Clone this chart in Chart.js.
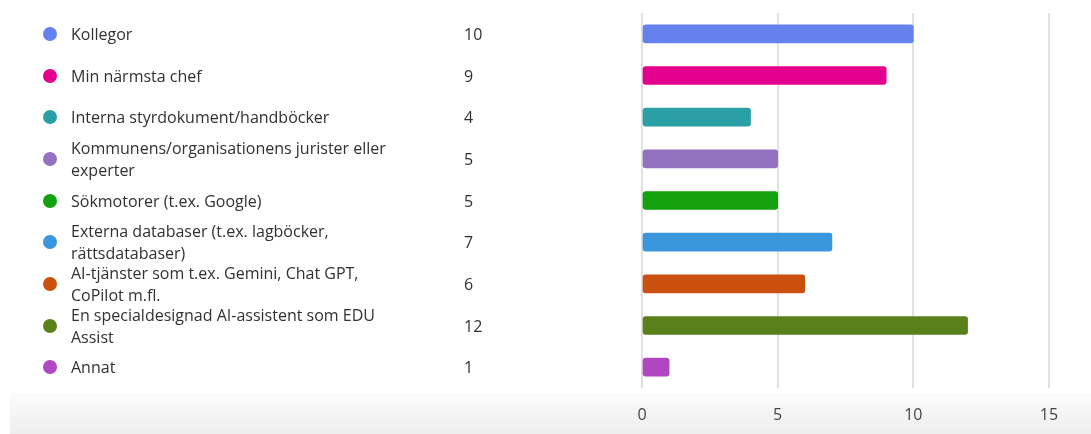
<!DOCTYPE html>
<html>
<head>
<meta charset="utf-8">
<script src="https://cdn.jsdelivr.net/npm/chart.js@4.4.1/dist/chart.umd.min.js"></script>
<style>
  html, body { margin: 0; padding: 0; background: #fff; }
  body { width: 1091px; height: 434px; position: relative; overflow: hidden; font-family: "Open Sans", "Noto Sans", sans-serif; }
  .footer-band { position: absolute; left: 10px; right: 0; top: 393px; bottom: 0; background: linear-gradient(#fbfbfb, #eeeeee); }
  #chart-wrap { position: absolute; left: 0; top: 0; width: 1091px; height: 434px; }
  #legend-list { position: absolute; left: 0; top: 0; width: 600px; height: 434px; }
  .row { position: absolute; left: 0; width: 600px; transform: translateY(-50%); color: #323130; font-size: 16px; line-height: 22px; }
  .dot { position: absolute; left: 43px; top: 50%; margin-top: -7px; width: 14px; height: 14px; border-radius: 50%; }
  .label { position: absolute; left: 71px; top: 0; white-space: nowrap; }
  .count { position: absolute; left: 464px; top: 50%; margin-top: -11px; }
</style>
</head>
<body>
<div class="footer-band"></div>
<div id="chart-wrap"><canvas id="chart" width="1091" height="434"></canvas></div>
<div id="legend-list"></div>
<script>
// Answer counts per information source
var categories = [
  ['Kollegor'],
  ['Min närmsta chef'],
  ['Interna styrdokument/handböcker'],
  ['Kommunens/organisationens jurister eller', 'experter'],
  ['Sökmotorer (t.ex. Google)'],
  ['Externa databaser (t.ex. lagböcker,', 'rättsdatabaser)'],
  ['AI-tjänster som t.ex. Gemini, Chat GPT,', 'CoPilot m.fl.'],
  ['En specialdesignad AI-assistent som EDU', 'Assist'],
  ['Annat']
];
var counts = [10, 9, 4, 5, 5, 7, 6, 12, 1];
var colors = ['#6581ee', '#e3008c', '#2a9fa6', '#9373c0', '#13a10e', '#3a96dd', '#ca5010', '#5a801c', '#b146c2'];
var xTicks = [0, 5, 10, 15];

(function () {
  'use strict';

  function escapeHtml(text) {
    var div = document.createElement('div');
    div.textContent = text;
    return div.innerHTML;
  }

  // left-hand list, placed on the same rows as the bars
  function renderList(chart) {
    var list = document.getElementById('legend-list');
    var yScale = chart.scales.y;
    list.innerHTML = '';
    categories.forEach(function (lines, i) {
      var row = document.createElement('div');
      row.className = 'row';
      row.style.top = yScale.getPixelForValue(i) + 'px';
      row.style.height = (lines.length * 22) + 'px';
      row.innerHTML =
        '<span class="dot" style="background:' + colors[i] + '"></span>' +
        '<span class="label">' + lines.map(escapeHtml).join('<br>') + '</span>' +
        '<span class="count">' + counts[i] + '</span>';
      list.appendChild(row);
    });
  }

  var chart = new Chart(document.getElementById('chart').getContext('2d'), {
    type: 'bar',
    data: {
      labels: categories,
      datasets: [{
        data: counts,
        backgroundColor: colors,
        borderWidth: 0,
        borderRadius: 3,
        borderSkipped: false,
        barThickness: 18
      }]
    },
    options: {
      indexAxis: 'y',
      responsive: false,
      animation: false,
      devicePixelRatio: 1,
      layout: { padding: { left: 642, right: 42, top: 13, bottom: 0 } },
      plugins: { legend: { display: false }, tooltip: { enabled: false } },
      scales: {
        x: {
          min: 0,
          max: 15,
          afterBuildTicks: function (axis) {
            axis.ticks = xTicks.map(function (v) { return { value: v }; });
          },
          afterFit: function (axis) { axis.height = 46; },
          grid: { color: '#e1e1e1', lineWidth: 2, drawTicks: false },
          border: { display: false },
          ticks: { color: '#444444', padding: 18, font: { family: '"Open Sans", "Noto Sans", sans-serif', size: 16 } }
        },
        y: { display: false }
      }
    }
  });

  renderList(chart);
})();
</script>
</body>
</html>
